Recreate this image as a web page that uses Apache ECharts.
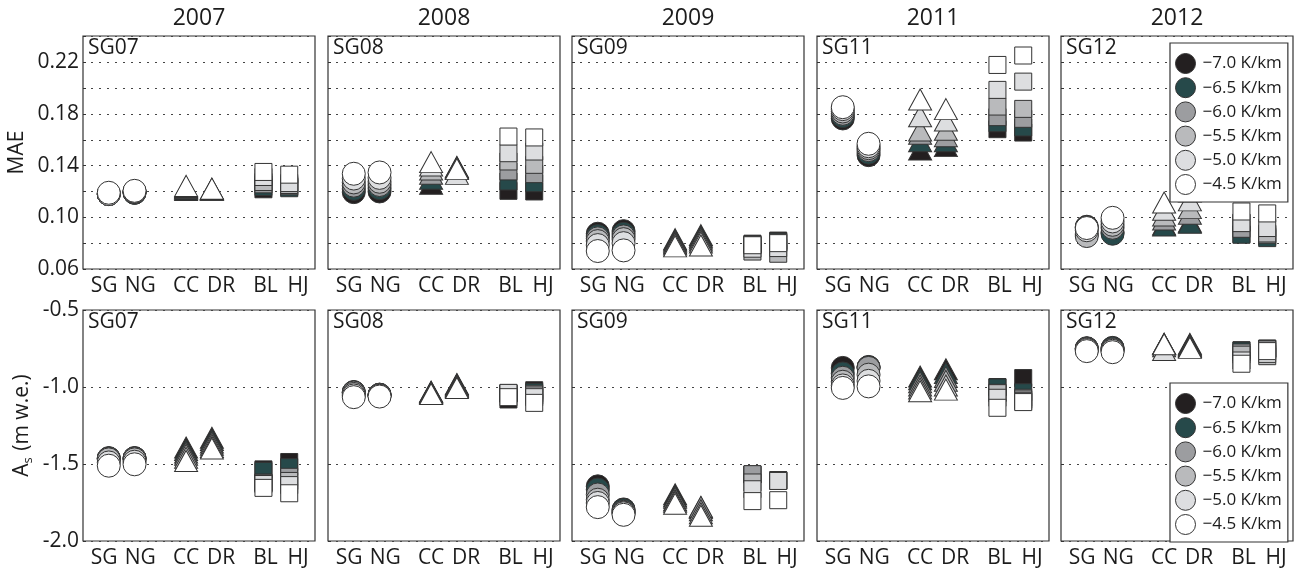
<!DOCTYPE html>
<html>
<head>
<meta charset="utf-8">
<script src="https://cdn.jsdelivr.net/npm/echarts/dist/echarts.min.js"></script>
<style>
  html, body { margin: 0; padding: 0; background: #fff; }
  #chart { width: 1295px; height: 569px; }
</style>
</head>
<body>
<div id="chart"></div>
<script>
// stations along each panel's x axis, where the markers sit and where the labels sit
const stations = ['SG', 'NG', 'CC', 'DR', 'BL', 'HJ']
const stationX = [1, 2, 4, 5, 7, 8]
const stationLabelX = [0.82, 2.22, 4.0, 5.36, 7.08, 8.34]
const years = ['2007', '2008', '2009', '2011', '2012']
const panelNames = ['SG07', 'SG08', 'SG09', 'SG11', 'SG12']
const lapseRates = ['\u22127.0 K/km', '\u22126.5 K/km', '\u22126.0 K/km', '\u22125.5 K/km', '\u22125.0 K/km', '\u22124.5 K/km']
const rateColors = ['#231f20', '#26494a', '#9c9da0', '#b9babc', '#dddee0', '#ffffff']
const maeTicks = [0.06, 0.10, 0.14, 0.18, 0.22]

// each row: station, values for -7.0 ... -4.5 K/km
const mae2007 = [
  [0.118, 0.118, 0.118, 0.118, 0.118, 0.119],
  [0.119, 0.119, 0.1195, 0.12, 0.12, 0.1205],
  [0.1212, 0.122, 0.1225, 0.123, 0.1235, 0.1243],
  [0.1214, 0.1215, 0.1216, 0.1217, 0.1219, 0.1222],
  [0.1217, 0.1235, 0.1255, 0.1273, 0.1312, 0.1351],
  [0.1235, 0.1225, 0.124, 0.125, 0.1265, 0.133]
]
const mae2008 = [
  [0.1195, 0.122, 0.1245, 0.127, 0.130, 0.1337],
  [0.12, 0.1225, 0.125, 0.1275, 0.1305, 0.1347],
  [0.1259, 0.1298, 0.1337, 0.137, 0.1401, 0.1427],
  [0.139, 0.1385, 0.138, 0.1378, 0.1336, 0.1373],
  [0.1205, 0.1277, 0.1355, 0.1432, 0.1496, 0.1625],
  [0.12, 0.1264, 0.1334, 0.1406, 0.1509, 0.1618]
]
const mae2009 = [
  [0.0873, 0.0855, 0.0837, 0.0816, 0.0785, 0.0739],
  [0.0893, 0.0872, 0.0852, 0.0831, 0.08, 0.0744],
  [0.0831, 0.082, 0.081, 0.08, 0.079, 0.0775],
  [0.0862, 0.085, 0.0835, 0.082, 0.0805, 0.0782],
  [0.0796, 0.079, 0.0785, 0.0735, 0.0757, 0.0784],
  [0.082, 0.0812, 0.0806, 0.0718, 0.0762, 0.08]
]
const mae2011 = [
  [0.1765, 0.1783, 0.1801, 0.1819, 0.1837, 0.1852],
  [0.1481, 0.150, 0.152, 0.1535, 0.155, 0.1569],
  [0.1525, 0.1589, 0.1646, 0.1672, 0.1782, 0.1911],
  [0.1551, 0.1589, 0.1628, 0.1677, 0.1749, 0.1837],
  [0.1682, 0.1728, 0.1775, 0.1857, 0.1986, 0.2179],
  [0.1656, 0.1695, 0.1762, 0.1839, 0.205, 0.2252]
]
const mae2012 = [
  [0.0927, 0.092, 0.087, 0.0855, 0.090, 0.0917],
  [0.0885, 0.0873, 0.0919, 0.0942, 0.0968, 0.0996],
  [0.0945, 0.0937, 0.0983, 0.1014, 0.1058, 0.1115],
  [0.0965, 0.0958, 0.1027, 0.1071, 0.1131, 0.12],
  [0.087, 0.0865, 0.0911, 0.096, 0.0955, 0.1045],
  [0.085, 0.0839, 0.0865, 0.0875, 0.0917, 0.103]
]
const as2007 = [
  [-1.462, -1.463, -1.465, -1.47, -1.49, -1.511],
  [-1.462, -1.462, -1.464, -1.47, -1.485, -1.502],
  [-1.393, -1.41, -1.425, -1.44, -1.46, -1.48],
  [-1.33, -1.345, -1.36, -1.375, -1.39, -1.40],
  [-1.535, -1.545, -1.62, -1.625, -1.63, -1.655],
  [-1.487, -1.52, -1.583, -1.61, -1.637, -1.69]
]
const as2008 = [
  [-1.033, -1.034, -1.036, -1.045, -1.055, -1.066],
  [-1.05, -1.05, -1.052, -1.054, -1.057, -1.062],
  [-1.03, -1.033, -1.036, -1.039, -1.042, -1.045],
  [-0.981, -0.985, -0.99, -0.995, -1.0, -1.006],
  [-1.081, -1.045, -1.042, -1.04, -1.038, -1.066],
  [-1.021, -1.032, -1.044, -1.055, -1.066, -1.103]
]
const as2009 = [
  [-1.645, -1.666, -1.698, -1.732, -1.753, -1.78],
  [-1.795, -1.80, -1.81, -1.815, -1.82, -1.83],
  [-1.697, -1.71, -1.72, -1.735, -1.745, -1.758],
  [-1.785, -1.783, -1.778, -1.8, -1.82, -1.836],
  [-1.569, -1.568, -1.566, -1.62, -1.664, -1.741],
  [-1.605, -1.607, -1.608, -1.609, -1.61, -1.735]
]
const as2011 = [
  [-0.876, -0.912, -0.94, -0.966, -0.99, -1.006],
  [-0.87, -0.872, -0.876, -0.92, -0.96, -0.996],
  [-0.932, -0.95, -0.97, -0.99, -1.01, -1.028],
  [-0.885, -0.91, -0.935, -0.96, -0.99, -1.017],
  [-1.0, -1.003, -1.038, -1.04, -1.07, -1.135],
  [-0.942, -1.034, -1.07, -1.081, -1.092, -1.098]
]
const as2012 = [
  [-0.748, -0.75, -0.752, -0.755, -0.76, -0.767],
  [-0.746, -0.748, -0.755, -0.76, -0.765, -0.774],
  [-0.72, -0.721, -0.722, -0.735, -0.76, -0.722],
  [-0.72, -0.725, -0.73, -0.735, -0.74, -0.746],
  [-0.761, -0.764, -0.776, -0.79, -0.828, -0.849],
  [-0.75, -0.752, -0.755, -0.8, -0.785, -0.767]
]

const maeData = [mae2007, mae2008, mae2009, mae2011, mae2012]
const asData = [as2007, as2008, as2009, as2011, as2012]

const FONT = '"Open Sans", "DejaVu Sans", sans-serif'
const INK = '#1c1c1c'
const shapes = ['circle', 'circle', 'triangle', 'triangle', 'rect', 'rect']
const sizes = [23, 23, [23, 21], [23, 21], [17, 17], [17, 17]]
const lefts = [83, 328, 572, 817, 1061]
const tops = [36, 310]
const W = 232, H = 233

const chart = echarts.init(document.getElementById('chart'))

const grids = [], xAxes = [], yAxes = [], series = [], graphics = []
const panels = []
for (let row = 0; row < 2; row++) {
  for (let col = 0; col < 5; col++) {
    panels.push({ row, col, data: row === 0 ? maeData[col] : asData[col] })
  }
}

panels.forEach((p, i) => {
  grids.push({
    left: lefts[p.col], top: tops[p.row], width: W, height: H,
    show: true, borderColor: '#333', borderWidth: 1.2, backgroundColor: 'transparent'
  })
  xAxes.push({
    gridIndex: i, type: 'value', min: 0, max: 9, interval: 1,
    axisLine: { show: false }, axisTick: { show: false }, splitLine: { show: false },
    axisLabel: {
      customValues: stationLabelX,
      margin: 7, fontSize: 21, color: INK, fontFamily: FONT,
      formatter: v => {
        const k = stationLabelX.findIndex(s => Math.abs(s - v) < 1e-6)
        return k >= 0 ? stations[k] : ''
      }
    }
  })
  const first = p.col === 0
  const y = {
    gridIndex: i, type: 'value',
    axisLine: { show: false },
    axisTick: { show: true, inside: true, length: 3, lineStyle: { color: '#333' } },
    splitLine: { show: true, lineStyle: { color: '#444', type: [2, 6], width: 1 } },
    axisLabel: { show: first, margin: 4, fontSize: 21, color: INK, fontFamily: FONT }
  }
  if (p.row === 0) {
    Object.assign(y, { min: 0.06, max: 0.2403, interval: 0.02 })
    y.axisLabel.formatter = v => maeTicks.some(t => Math.abs(t - v) < 1e-6) ? v.toFixed(2) : ''
    if (first) {
      y.name = 'MAE'
      y.nameLocation = 'middle'
      y.nameGap = 55
      y.nameTextStyle = { fontSize: 21, color: INK, fontFamily: FONT }
    }
  } else {
    Object.assign(y, { min: -2.0, max: -0.5, interval: 0.5 })
    y.axisLabel.formatter = v => v.toFixed(1)
    if (first) {
      y.name = '{a|A}{s|s}{a| (m w.e.)}'
      y.nameLocation = 'middle'
      y.nameGap = 48
      y.nameTextStyle = {
        color: INK, fontFamily: FONT,
        rich: {
          a: { fontSize: 21, fontFamily: FONT, color: INK, lineHeight: 25 },
          s: { fontSize: 13, fontFamily: FONT, color: INK, verticalAlign: 'bottom', lineHeight: 14, padding: [0, 1, 0, 0] }
        }
      }
    }
  }
  yAxes.push(y)

  graphics.push({
    type: 'text', x: lefts[p.col] + 5, y: tops[p.row] + 2, silent: true,
    style: { text: panelNames[p.col], font: '21px ' + FONT, fill: INK, verticalAlign: 'top' }
  })
})

years.forEach((yr, col) => {
  graphics.push({
    type: 'text', x: lefts[col] + W / 2, y: 18, silent: true,
    style: { text: yr, font: '23px ' + FONT, fill: INK, align: 'center', verticalAlign: 'middle' }
  })
})

// lapse rates drawn in order so the -4.5 markers end up on top
lapseRates.forEach((name, r) => {
  panels.forEach((p, i) => {
    series.push({
      type: 'scatter', name, xAxisIndex: i, yAxisIndex: i,
      itemStyle: { color: rateColors[r], borderColor: '#333', borderWidth: 1, opacity: 1 },
      emphasis: { disabled: true },
      data: p.data.map((vals, k) => ({
        value: [stationX[k], vals[r]], symbol: shapes[k], symbolSize: sizes[k]
      }))
    })
  })
})

const legendItems = lapseRates.map((name, r) => ({
  name, icon: 'circle',
  itemStyle: { color: rateColors[r], borderColor: '#333', borderWidth: 1 }
}))
const legendBase = {
  orient: 'vertical', left: 1170, itemWidth: 20, itemHeight: 20, itemGap: 3.2,
  padding: [10, 6, 7, 5], borderColor: '#333', borderWidth: 1.2, backgroundColor: '#fff',
  selectedMode: false, data: legendItems,
  textStyle: { fontSize: 17, color: INK, fontFamily: FONT, padding: [0, 0, 0, 2] }
}

chart.setOption({
  backgroundColor: '#fff',
  animation: false,
  grid: grids,
  xAxis: xAxes,
  yAxis: yAxes,
  legend: [
    Object.assign({}, legendBase, { top: 43 }),
    Object.assign({}, legendBase, { top: 383 })
  ],
  graphic: graphics,
  series
})
</script>
</body>
</html>
